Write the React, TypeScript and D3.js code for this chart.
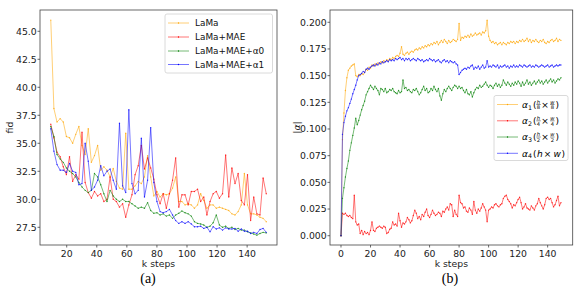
import * as d3 from "d3";

// ---- (a) fid vs k steps ----
const FID_STEP_START = 9.4;
const FID_STEP_GAP = 2.077;
const FID_LAMA = [
  46.0, 38.1, 36.9, 37.2, 36.9, 35.6, 35.5, 35.0, 35.8, 36.5,
  34.8, 34.0, 36.3, 33.3, 33.9, 34.8, 32.6, 32.9, 32.6, 32.0,
  32.75, 31.6, 31.0, 30.9, 35.9, 30.9, 30.9, 31.2, 31.6, 31.4,
  32.0, 33.9, 32.0, 30.3,
  30.7, 30.2, 30.5, 30.4, 30.5, 31.0, 32.0, 29.8, 29.8, 29.5,
  29.6, 29.5, 29.2, 29.5, 30.5, 29.9, 29.2, 29.5, 29.5, 29.2,
  29.3, 29.2, 29.1, 29.0, 28.7, 28.6, 28.9, 29.5, 32.3, 29.5,
  28.7, 28.7, 28.6, 28.4, 28.3, 28.0,
];
const FID_MAE = [
  36.7, 35.5, 34.2, 33.8, 32.9, 32.2, 33.8, 31.6, 32.2, 31.8,
  36.0, 31.5, 30.6, 30.1, 30.7, 30.3, 30.5, 29.8, 30.0, 32.0,
  30.0, 29.8, 29.3, 29.6, 28.4, 29.5, 30.4, 32.2, 33.0, 34.8,
  32.7, 33.7, 32.8, 31.8,
  30.4, 29.6, 30.5, 29.2, 30.5, 31.7, 33.7, 29.3, 30.4, 30.4,
  29.5, 30.7, 30.7, 30.9, 29.8, 30.2, 28.6, 29.8, 30.5, 30.7,
  30.1, 30.5, 33.95, 30.2, 32.8, 31.4, 32.3, 29.9, 29.5, 32.2,
  28.1, 30.2, 28.7, 28.6, 31.9, 30.5,
];
const FID_ALPHA0 = [
  36.5, 35.6, 34.0, 33.6, 33.3, 32.8, 32.5, 32.3, 32.0, 31.5,
  31.1, 30.8, 30.6, 30.8, 32.3, 32.0, 31.3, 30.5, 29.8, 30.8,
  30.3, 30.0, 29.8, 30.0, 29.8, 29.8, 29.6, 29.4, 29.2, 29.3,
  29.2, 29.7, 29.0, 28.75,
  28.8, 28.6, 28.7, 28.5, 28.6, 28.3, 28.6, 28.75, 28.95, 28.8,
  28.7, 28.5, 28.0, 27.85, 27.8, 27.7, 27.5, 27.6, 27.9, 28.6,
  27.7, 27.5, 27.6, 27.4, 27.5, 27.3, 27.4, 27.25, 27.25, 27.1,
  27.0, 26.9, 26.8, 26.95, 27.05, 27.0,
];
const FID_ALPHA1 = [
  36.3, 34.3, 33.1, 32.6, 32.6, 32.4, 33.2, 32.5, 32.4, 31.3,
  31.4, 35.0, 33.4, 30.8, 31.1, 31.7, 33.0, 32.1, 32.5, 32.7,
  31.7, 30.9, 36.8, 31.2, 30.6, 38.0, 31.4, 30.5, 30.8, 35.45,
  30.2, 31.7, 36.4, 31.5,
  29.8, 28.9, 28.8, 28.9, 29.1, 28.6, 28.1, 27.85, 28.0, 27.85,
  28.0, 27.8, 27.55, 27.55, 27.6, 27.4, 27.5, 27.1, 27.55, 27.35,
  27.45, 27.25, 27.45, 27.35, 27.35, 27.4, 27.15, 27.35, 27.15, 27.15,
  26.95, 27.05, 26.95, 27.3, 27.4, 27.05,
];
const FID_TICKS = [27.5, 30.0, 32.5, 35.0, 37.5, 40.0, 42.5, 45.0];
const STEP_TICKS_A = [20, 40, 60, 80, 100, 120, 140];

// ---- (b) |alpha| vs k steps ----
const ALPHA_1 = [
  0.000, 0.090, 0.115, 0.136, 0.148, 0.155, 0.157, 0.159, 0.160, 0.161,
  0.150, 0.149, 0.151, 0.150, 0.152, 0.151, 0.153, 0.156, 0.155, 0.158,
  0.157, 0.160, 0.159, 0.161, 0.160, 0.162, 0.161, 0.163, 0.162, 0.164,
  0.163, 0.165, 0.164, 0.166, 0.165, 0.167, 0.166, 0.168, 0.169, 0.168,
  0.171, 0.177, 0.170, 0.169, 0.171, 0.172, 0.170, 0.172, 0.173, 0.172,
  0.174, 0.175, 0.174, 0.176, 0.175, 0.177, 0.176, 0.178, 0.177, 0.179,
  0.178, 0.180, 0.179, 0.181, 0.180, 0.182, 0.179, 0.181, 0.183, 0.181,
  0.184, 0.182, 0.180, 0.183, 0.181, 0.182, 0.184, 0.183, 0.182, 0.184,
  0.199, 0.183, 0.186, 0.185, 0.187, 0.186, 0.188, 0.186, 0.189, 0.187,
  0.188, 0.190, 0.188, 0.189, 0.190, 0.188, 0.191, 0.190, 0.192, 0.202,
  0.187, 0.183, 0.181, 0.182, 0.180, 0.181, 0.179, 0.180, 0.181, 0.179,
  0.181, 0.180, 0.179, 0.181, 0.180, 0.182, 0.181, 0.182, 0.180, 0.182,
  0.181, 0.183, 0.182, 0.184, 0.182, 0.183, 0.185, 0.182, 0.184, 0.181,
  0.183, 0.182, 0.184, 0.182, 0.181, 0.183, 0.182, 0.184, 0.181, 0.180,
  0.182, 0.181, 0.183, 0.184, 0.182, 0.183, 0.185, 0.182, 0.184, 0.183,
];
const ALPHA_2 = [
  0.000, 0.021, 0.020, 0.021, 0.019, 0.018, 0.019, 0.017, 0.016, 0.038,
  0.013, 0.010, 0.011, 0.002, 0.005, 0.001, 0.004, 0.002, 0.003, 0.001,
  0.005, 0.013, 0.005, 0.004, 0.007, 0.008, 0.009, 0.008, 0.007, 0.009,
  0.008, 0.002, 0.003, 0.006, 0.007, 0.013, 0.010, 0.011, 0.009, 0.021,
  0.014, 0.008, 0.012, 0.011, 0.013, 0.017, 0.015, 0.012, 0.014, 0.019,
  0.024, 0.021, 0.016, 0.018, 0.015, 0.020, 0.018, 0.022, 0.025, 0.019,
  0.017, 0.020, 0.024, 0.021, 0.019, 0.020, 0.022, 0.021, 0.018, 0.023,
  0.022, 0.025, 0.027, 0.024, 0.030, 0.029, 0.018, 0.024, 0.020, 0.018,
  0.038, 0.031, 0.030, 0.026, 0.027, 0.023, 0.022, 0.026, 0.024, 0.020,
  0.032, 0.024, 0.021, 0.025, 0.023, 0.026, 0.030, 0.027, 0.024, 0.013,
  0.024, 0.025, 0.027, 0.026, 0.029, 0.030, 0.028, 0.027, 0.029, 0.030,
  0.035, 0.037, 0.038, 0.034, 0.032, 0.030, 0.026, 0.029, 0.028, 0.031,
  0.034, 0.036, 0.031, 0.025, 0.027, 0.030, 0.026, 0.025, 0.024, 0.028,
  0.026, 0.024, 0.028, 0.030, 0.035, 0.031, 0.028, 0.025, 0.029, 0.035,
  0.036, 0.034, 0.035, 0.031, 0.027, 0.029, 0.033, 0.037, 0.028, 0.031,
];
const ALPHA_3 = [
  0.000, 0.035, 0.045, 0.055, 0.063, 0.070, 0.080, 0.087, 0.094, 0.101,
  0.110, 0.104, 0.108, 0.113, 0.118, 0.122, 0.126, 0.132, 0.135, 0.138,
  0.141, 0.139, 0.137, 0.140, 0.138, 0.136, 0.132, 0.138, 0.137, 0.135,
  0.138, 0.134, 0.135, 0.137, 0.136, 0.138, 0.135, 0.134, 0.133, 0.136,
  0.134, 0.135, 0.146, 0.138, 0.139, 0.136, 0.137, 0.135, 0.134, 0.137,
  0.136, 0.138, 0.135, 0.132, 0.134, 0.137, 0.140, 0.136, 0.138, 0.134,
  0.135, 0.138, 0.136, 0.140, 0.137, 0.135, 0.138, 0.131, 0.127, 0.133,
  0.137, 0.135, 0.138, 0.140, 0.138, 0.136, 0.139, 0.141, 0.140, 0.138,
  0.140, 0.138, 0.139, 0.136, 0.134, 0.137, 0.133, 0.132, 0.135, 0.130,
  0.134, 0.137, 0.139, 0.138, 0.141, 0.139, 0.140, 0.142, 0.144, 0.141,
  0.139, 0.141, 0.140, 0.138, 0.141, 0.143, 0.140, 0.142, 0.139, 0.141,
  0.146, 0.143, 0.141, 0.144, 0.142, 0.140, 0.143, 0.141, 0.144, 0.142,
  0.145, 0.143, 0.140, 0.144, 0.141, 0.143, 0.146, 0.142, 0.144, 0.141,
  0.143, 0.145, 0.142, 0.144, 0.146, 0.143, 0.145, 0.142, 0.144, 0.146,
  0.143, 0.145, 0.147, 0.144, 0.146, 0.143, 0.145, 0.147, 0.146, 0.148,
];
const ALPHA_4 = [
  0.000, 0.095, 0.106, 0.112, 0.117, 0.120, 0.124, 0.128, 0.133, 0.137,
  0.141, 0.146, 0.150, 0.151, 0.152, 0.154, 0.153, 0.156, 0.157, 0.156,
  0.158, 0.159, 0.160, 0.159, 0.161, 0.160, 0.162, 0.161, 0.163, 0.162,
  0.163, 0.164, 0.163, 0.165, 0.164, 0.165, 0.164, 0.166, 0.165, 0.166,
  0.167, 0.165, 0.166, 0.164, 0.166, 0.165, 0.166, 0.164, 0.165, 0.166,
  0.165, 0.164, 0.166, 0.165, 0.164, 0.165, 0.163, 0.164, 0.165, 0.164,
  0.166, 0.165, 0.164, 0.165, 0.163, 0.164, 0.165, 0.163, 0.162, 0.164,
  0.165, 0.163, 0.164, 0.162, 0.164, 0.163, 0.162, 0.163, 0.161, 0.160,
  0.151, 0.153, 0.155, 0.156, 0.157, 0.156, 0.158, 0.157, 0.159, 0.160,
  0.156, 0.158, 0.157, 0.159, 0.156, 0.158, 0.160, 0.157, 0.158, 0.164,
  0.158, 0.159, 0.158, 0.160, 0.159, 0.158, 0.160, 0.157, 0.159, 0.158,
  0.159, 0.160, 0.158, 0.159, 0.157, 0.159, 0.158, 0.160, 0.158, 0.159,
  0.158, 0.160, 0.159, 0.158, 0.160, 0.159, 0.158, 0.159, 0.160, 0.158,
  0.159, 0.158, 0.160, 0.159, 0.158, 0.159, 0.160, 0.159, 0.158, 0.159,
  0.160, 0.158, 0.159, 0.160, 0.158, 0.159, 0.160, 0.159, 0.160, 0.160,
];
const ALPHA_TICKS = [0, 0.025, 0.05, 0.075, 0.1, 0.125, 0.15, 0.175, 0.2];
const STEP_TICKS_B = [0, 20, 40, 60, 80, 100, 120, 140];

const FID_NAMES = ["LaMa", "LaMa+MAE", "LaMa+MAE+α0", "LaMa+MAE+α1"];
const ALPHA_DENS = ["8", "4", "2", null];
const COLORS = ["#ffa500", "#ff0000", "#008000", "#0000ff"];

const FONT = "DejaVu Sans, sans-serif";
const TICK_FS = 9.3;

type Box = { left: number; right: number; top: number; bottom: number };

function Panel({
  id, box, xDomain, yDomain, xs, series, xTicks, yTicks, yFormat,
}: {
  id: string; box: Box; xDomain: [number, number]; yDomain: [number, number];
  xs: number[]; series: number[][]; xTicks: number[]; yTicks: number[];
  yFormat: (v: number) => string;
}) {
  const x = d3.scaleLinear().domain(xDomain).range([box.left, box.right]);
  const y = d3.scaleLinear().domain(yDomain).range([box.bottom, box.top]);
  const line = d3.line<number>().x((_, i) => x(xs[i])).y((d) => y(d));

  return (
    <g>
      <defs>
        <clipPath id={id}>
          <rect x={box.left} y={box.top} width={box.right - box.left} height={box.bottom - box.top} />
        </clipPath>
      </defs>
      <g clipPath={`url(#${id})`}>
        {series.map((vals, k) => (
          <g key={k}>
            <path d={line(vals) ?? ""} fill="none" stroke={COLORS[k]} strokeOpacity={0.6} strokeWidth={0.9} />
            {vals.map((v, i) => (
              <circle key={i} cx={x(xs[i])} cy={y(v)} r={0.7} fill={COLORS[k]} fillOpacity={0.75} />
            ))}
          </g>
        ))}
      </g>
      <rect x={box.left} y={box.top} width={box.right - box.left} height={box.bottom - box.top}
        fill="none" stroke="#444" strokeWidth={0.8} />
      {xTicks.map((t) => (
        <g key={t}>
          <line x1={x(t)} x2={x(t)} y1={box.bottom} y2={box.bottom + 2.5} stroke="#444" strokeWidth={0.8} />
          <text x={x(t)} y={box.bottom + 11.7} fontSize={TICK_FS} textAnchor="middle" fontFamily={FONT} fill="#222">{t}</text>
        </g>
      ))}
      {yTicks.map((t) => (
        <g key={t}>
          <line x1={box.left - 2.5} x2={box.left} y1={y(t)} y2={y(t)} stroke="#444" strokeWidth={0.8} />
          <text x={box.left - 3.3} y={y(t) + 3.3} fontSize={TICK_FS} textAnchor="end" fontFamily={FONT} fill="#222">{yFormat(t)}</text>
        </g>
      ))}
      <text x={(box.left + box.right) / 2} y={266.5} fontSize={TICK_FS} textAnchor="middle" fontFamily={FONT} fill="#222">k steps</text>
    </g>
  );
}

// small stacked fraction (mathtext \frac{h}{8}) for the (b) legend
function Frac({ cx, cy, num, den }: { cx: number; cy: number; num: string; den: string }) {
  return (
    <g fontFamily={FONT} fontSize={5.2} textAnchor="middle">
      <text x={cx} y={cy - 0.9} fontStyle="italic">{num}</text>
      <line x1={cx - 2.2} x2={cx + 2.2} y1={cy} y2={cy} stroke="#000" strokeWidth={0.45} />
      <text x={cx} y={cy + 4.8}>{den}</text>
    </g>
  );
}

function AlphaEntry({ x, y, idx, den }: { x: number; y: number; idx: number; den: string | null }) {
  const base = y + 3.2;
  return (
    <g fontFamily={FONT} fill="#000">
      <text x={x} y={base} fontSize={9} fontStyle="italic">α</text>
      <text x={x + 6} y={base + 1.8} fontSize={6.3}>{idx}</text>
      <text x={x + 11} y={base} fontSize={9}>(</text>
      {den ? (
        <>
          <Frac cx={x + 16.5} cy={y} num="h" den={den} />
          <text x={x + 19.3} y={base} fontSize={9}>×</text>
          <Frac cx={x + 30.3} cy={y} num="w" den={den} />
          <text x={x + 33.6} y={base} fontSize={9}>)</text>
        </>
      ) : (
        <>
          <text x={x + 15} y={base} fontSize={9} fontStyle="italic">h</text>
          <text x={x + 21.7} y={base} fontSize={9}>×</text>
          <text x={x + 31.5} y={base} fontSize={9} fontStyle="italic">w</text>
          <text x={x + 39.6} y={base} fontSize={9}>)</text>
        </>
      )}
    </g>
  );
}

export default function App() {
  const fidSteps = FID_LAMA.map((_, i) => FID_STEP_START + i * FID_STEP_GAP);
  const alphaSteps = ALPHA_1.map((_, i) => i);

  const boxA: Box = { left: 40, right: 277, top: 10, bottom: 245 };
  const boxB: Box = { left: 330, right: 572.7, top: 10, bottom: 245 };

  const legendARows = [23, 37, 51, 64.5];
  const legendBRows = [104.5, 120.8, 137, 153.3];

  return (
    <svg width={581} height={290} style={{ position: "absolute", left: 0, top: 0, background: "#fff" }}>
      <rect width={581} height={290} fill="#fff" />
      <Panel
        id="clipA" box={boxA} xDomain={[2.23, 159.87]} yDomain={[25.92, 46.9]}
        xs={fidSteps} series={[FID_LAMA, FID_MAE, FID_ALPHA0, FID_ALPHA1]}
        xTicks={STEP_TICKS_A} yTicks={FID_TICKS} yFormat={d3.format(".1f")}
      />
      <Panel
        id="clipB" box={boxB} xDomain={[-7.45, 156.97]} yDomain={[-0.0087, 0.2115]}
        xs={alphaSteps} series={[ALPHA_1, ALPHA_2, ALPHA_3, ALPHA_4]}
        xTicks={STEP_TICKS_B} yTicks={ALPHA_TICKS} yFormat={d3.format(".3f")}
      />

      {/* axis labels */}
      <text transform="translate(13,127.5) rotate(-90)" fontSize={TICK_FS} textAnchor="middle" fontFamily={FONT} fill="#222">fid</text>
      <text transform="translate(300,127.5) rotate(-90)" fontSize={TICK_FS} textAnchor="middle" fontFamily={FONT} fill="#222">
        |<tspan fontStyle="italic">α</tspan>|
      </text>

      {/* legend (a) */}
      <rect x={165} y={14} width={107.5} height={59} rx={2} fill="#fff" fillOpacity={0.8} stroke="#d0d0d0" strokeWidth={0.8} />
      {FID_NAMES.map((name, k) => (
        <g key={name}>
          <line x1={168} x2={189} y1={legendARows[k]} y2={legendARows[k]} stroke={COLORS[k]} strokeOpacity={0.6} strokeWidth={0.9} />
          <circle cx={178.5} cy={legendARows[k]} r={0.7} fill={COLORS[k]} />
          <text x={195} y={legendARows[k] + 3.1} fontSize={8.9} fontFamily={FONT} fill="#111">{name}</text>
        </g>
      ))}

      {/* legend (b) */}
      <rect x={494} y={95.5} width={74} height={65} rx={2} fill="#fff" fillOpacity={0.8} stroke="#d0d0d0" strokeWidth={0.8} />
      {legendBRows.map((ry, k) => (
        <g key={k}>
          <line x1={497} x2={518} y1={ry} y2={ry} stroke={COLORS[k]} strokeOpacity={0.6} strokeWidth={0.9} />
          <circle cx={507.5} cy={ry} r={0.7} fill={COLORS[k]} />
          <AlphaEntry x={522} y={ry} idx={k + 1} den={ALPHA_DENS[k]} />
        </g>
      ))}

      {/* captions */}
      <text x={148} y={283} fontSize={14} textAnchor="middle" fontFamily="Liberation Serif, serif" fill="#000">(a)</text>
      <text x={450} y={283} fontSize={14} textAnchor="middle" fontFamily="Liberation Serif, serif" fill="#000">(b)</text>
    </svg>
  );
}
